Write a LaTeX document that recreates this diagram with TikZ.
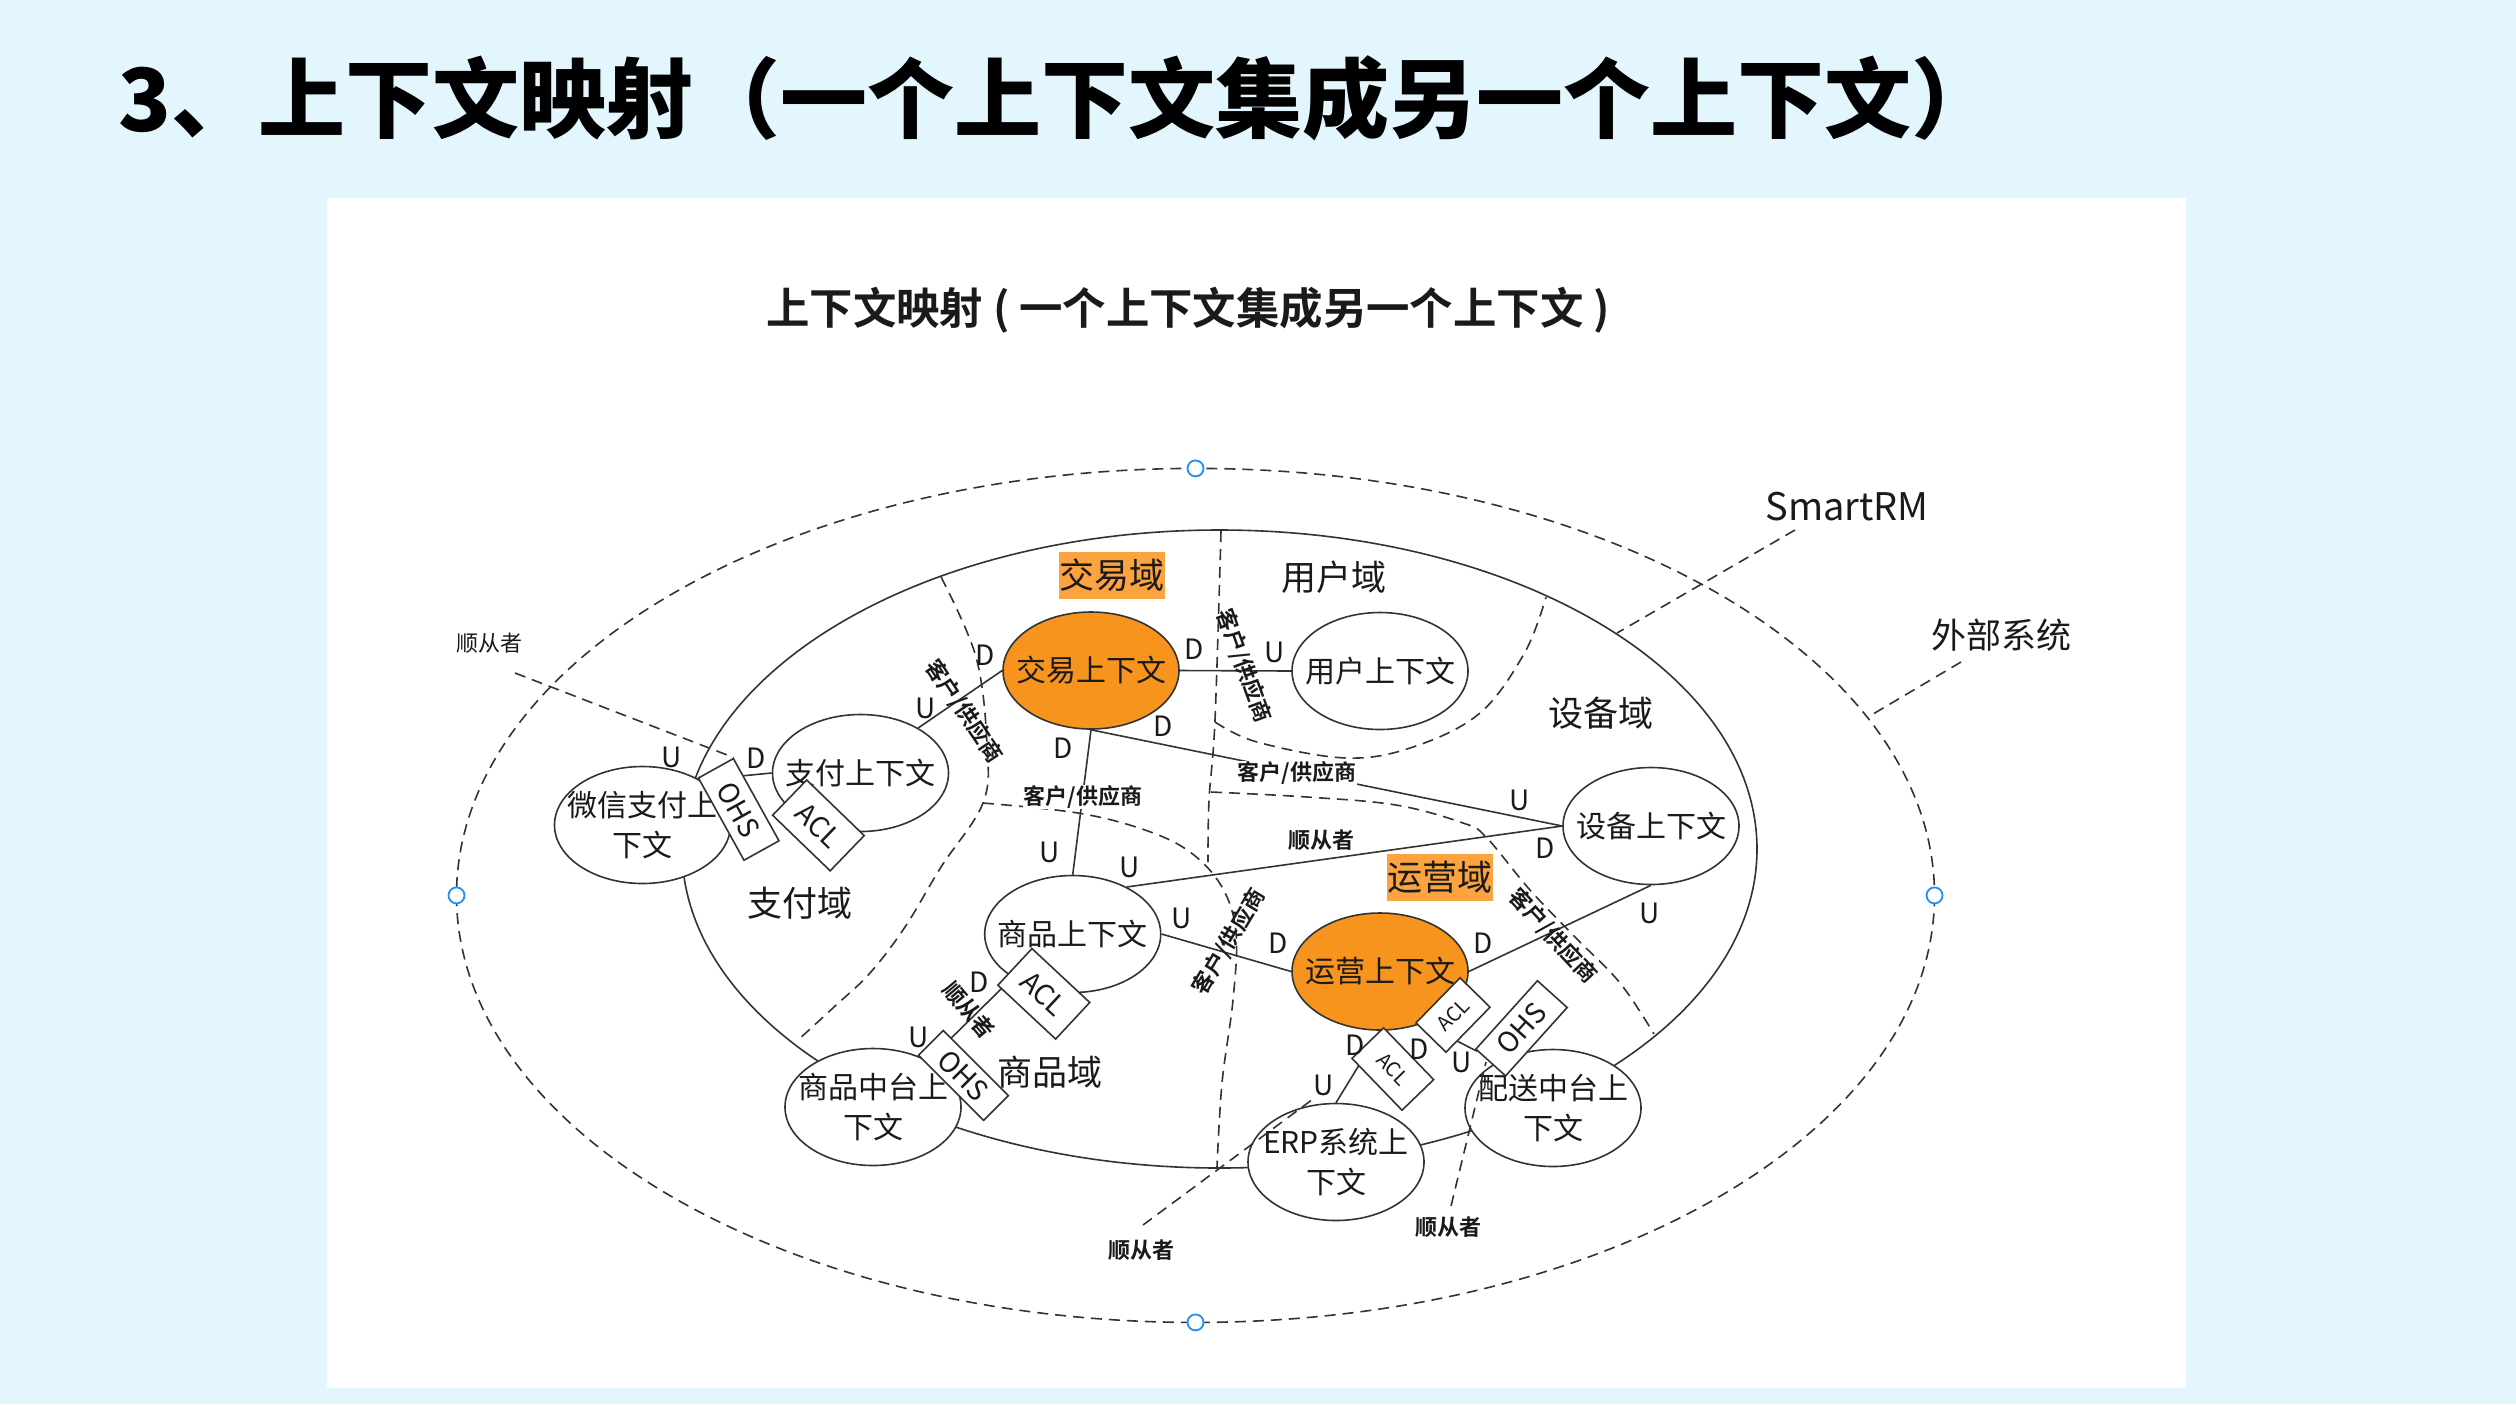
\documentclass[tikz,border=0pt]{standalone}
\usepackage{fontspec}
\setmainfont{Noto Sans CJK SC}[BoldFont={Noto Sans CJK SC Bold}]
\newfontfamily\headingfont{Noto Sans CJK SC Black}
\usetikzlibrary{calc,shapes.geometric}
\definecolor{bgblue}{RGB}{227,245,253}
\definecolor{nodeorange}{RGB}{247,148,30}
\definecolor{hlorange}{RGB}{250,163,64}
\definecolor{linegray}{RGB}{51,51,51}
\definecolor{textblack}{RGB}{26,26,26}
\definecolor{handleblue}{RGB}{30,144,255}

\begin{document}
\begin{tikzpicture}[x=0.5pt,y=-0.5pt,
  conn/.style={draw=linegray, line width=0.8pt},
  dline/.style={draw=linegray, line width=0.8pt, dash pattern=on 5.5pt off 3.5pt},
  ctx/.style={ellipse, draw=linegray, line width=0.8pt, fill=white, minimum width=88pt, minimum height=58.5pt, inner sep=0pt},
  ctxtext/.style={font=\fontsize{15}{20}\selectfont, text=textblack, align=center, inner sep=0pt},
  ud/.style={font=\fontsize{14}{14}\selectfont, text=textblack, inner sep=0pt},
  rel/.style={font=\bfseries\fontsize{11}{12}\selectfont, text=textblack, inner sep=0pt},
  dom/.style={font=\fontsize{17.5}{18}\selectfont, text=textblack, inner sep=0pt},
  domhl/.style={dom, fill=hlorange, minimum width=53pt, minimum height=23.5pt},
  relbox/.style={draw=linegray, line width=0.8pt, fill=white, inner sep=0pt, text=textblack, font=\fontsize{14}{14}\selectfont},
  relboxsm/.style={relbox, font=\fontsize{10}{10}\selectfont},
  handle/.style={draw=handleblue, line width=0.9pt, fill=white},
]
\useasboundingbox (0,0) rectangle (2516,1404);
\fill[bgblue] (0,0) rectangle (2516,1404);
\fill[white] (327,198) rectangle (2186,1388);

% headings
\node[anchor=west, font=\headingfont\fontsize{43.5}{44}\selectfont, text=black, inner sep=0pt] (title) at (118,98) {3、上下文映射（一个上下文集成另一个上下文）};
\node[font=\bfseries\fontsize{21.7}{22}\selectfont, text=textblack, inner sep=0pt] (subtitle) at (1188,310) {上下文映射 ( 一个上下文集成另一个上下文 )};

% external system boundary and SmartRM boundary
\draw[dline] (1195.5,895.4) ellipse [x radius=739, y radius=427];
\draw[conn] (1219.5,849) ellipse [x radius=537.5, y radius=319];
\foreach \hx/\hy in {1195.5/468.4, 1195.5/1322.4, 456.5/895.4, 1934.5/895.4}
  \draw[handle] (\hx,\hy) circle [radius=8];

% domain boundaries
\draw[dline] plot[smooth, tension=0.6] coordinates {(941,577) (976,657) (987,745) (983,803) (941,867) (905,927) (870,973) (834,1007) (798,1040)};
\draw[dline] plot[smooth, tension=0.6] coordinates {(983,803) (1078,813) (1145,830) (1190,852) (1222,887) (1236,933) (1233,1000) (1222,1083) (1217,1167)};
\draw[dline] plot[smooth, tension=0.6] coordinates {(1221,531) (1215,720) (1209,800) (1208,862)};
\draw[dline] plot[smooth, tension=0.6] coordinates {(1211,792) (1307,797) (1396,805) (1463,823) (1486,837) (1530,890) (1575,937) (1620,983) (1654,1034)};
\draw[dline] plot[smooth, tension=0.6] coordinates {(1215,722) (1257,742) (1346,758) (1413,747) (1480,713) (1525,652) (1546,597)};

% domain names
\node[domhl] (dJY) at (1112,575) {交易域};
\node[dom] (dYH) at (1334,577) {用户域};
\node[dom] (dSB) at (1601,713) {设备域};
\node[domhl] (dYY) at (1439.5,877) {运营域};
\node[dom] (dZF) at (800,903) {支付域};
\node[dom] (dSP) at (1050,1072) {商品域};

% bounded contexts
\node[ctx, fill=nodeorange] (jy) at (1091,670.5) {};
\node[ctx] (yh) at (1380,671) {};
\node[ctx] (zf) at (860.5,773) {};
\node[ctx] (wx) at (642.5,825) {};
\node[ctx] (sb) at (1651,826) {};
\node[ctx] (sp) at (1072.7,934) {};
\node[ctx, fill=nodeorange] (yy) at (1380,971.5) {};
\node[ctx] (spzt) at (873,1107) {};
\node[ctx] (erp) at (1336,1162) {};
\node[ctx] (ps) at (1553,1108) {};

\node[ctxtext] (jyt) at (jy) {交易上下文};
\node[ctxtext] (yht) at (yh) {用户上下文};
\node[ctxtext] (zft) at (zf) {支付上下文};
\node[ctxtext] (wxt) at (wx) {微信支付上\\下文};
\node[ctxtext] (sbt) at (sb) {设备上下文};
\node[ctxtext] (spt) at (sp) {商品上下文};
\node[ctxtext] (yyt) at (yy) {运营上下文};
\node[ctxtext] (spztt) at (spzt) {商品中台上\\下文};
\node[ctxtext] (erpt) at (erp) {ERP系统上\\下文};
\node[ctxtext] (pst) at (ps) {配送中台上\\下文};

% relationships
\draw[conn] (jy.east) -- (yh.west);
\draw[conn] (jy.west) -- (zf.38);
\draw[conn] (jy.south) -- (sb.west);
\draw[conn] (jy.south) -- (sp.north);
\draw[conn] (sp.41) -- (sb.west);
\draw[conn] (sp.east) -- (yy.west);
\draw[conn] (yy.east) -- (sb.south);
\draw[conn] (yy.south) -- (erp.north);
\draw[conn] (wx.38) -- (zf.west);
\draw[conn] (sp.216) -- (spzt.40);

% anticorruption layers and open host services
\node[relbox, minimum width=47pt, minimum height=20pt, rotate=-61] (ohs1) at (738.7,809.4) {OHS};
\node[relbox, minimum width=40pt, minimum height=24.5pt, rotate=-44] (acl1) at (818.4,825.4) {ACL};
\node[relbox, minimum width=39.5pt, minimum height=25pt, rotate=-43] (acl2) at (1043.8,993.8) {ACL};
\node[relbox, minimum width=46pt, minimum height=17.5pt, rotate=-45] (ohs2) at (963.4,1075.4) {OHS};
\node[relboxsm, minimum width=36pt, minimum height=22pt, rotate=-46] (acl4) at (1392.8,1069) {ACL};
\node[relboxsm, minimum width=31.5pt, minimum height=21pt, rotate=45.6] (acl3) at (1453,1015) {ACL};
\node[relbox, minimum width=46pt, minimum height=20pt, rotate=48] (ohs3) at (1521.5,1028.3) {OHS};
\draw[conn] ($(acl3.south)!0.48!(acl3.south west)$) -- ($(ohs3.north west)!0.15!(ohs3.west)$);

% relationship names
\node[rel, rotate=-56] (r1) at (964,711) {客户/供应商};
\node[rel, rotate=-70] (r2) at (1244,666) {客户/供应商};
\node[rel, fill=white, inner sep=0.5pt] (r3) at (1297,773) {客户/供应商};
\node[rel, fill=white, inner sep=0.5pt] (r4) at (1083,797) {客户/供应商};
\node[rel] (r5) at (1321,840) {顺从者};
\node[rel, rotate=59] (r6) at (1229,942) {客户/供应商};
\node[rel, rotate=-47] (r7) at (1553,936) {客户/供应商};
\node[rel, rotate=-50] (r8) at (969,1010) {顺从者};

% upstream / downstream marks
\node[ud] (u1) at (671.5,757) {U};
\node[ud] (d1) at (755.7,758) {D};
\node[ud] (d2) at (985.3,655) {D};
\node[ud] (u2) at (925.3,708) {U};
\node[ud] (d3) at (1194.6,649) {D};
\node[ud] (u3) at (1275,652) {U};
\node[ud] (d4) at (1163.4,726) {D};
\node[ud] (d5) at (1063,748) {D};
\node[ud] (u4) at (1049.6,852) {U};
\node[ud] (u5) at (1130,867) {U};
\node[ud] (u6) at (1519.6,800) {U};
\node[ud] (d6) at (1545,848) {D};
\node[ud] (u7) at (1182,918) {U};
\node[ud] (d7) at (1278,943) {D};
\node[ud] (d8) at (1483.5,943) {D};
\node[ud] (u8) at (1649.6,913) {U};
\node[ud] (d9) at (979,982) {D};
\node[ud] (u9) at (918.8,1037) {U};
\node[ud] (d10) at (1355,1045) {D};
\node[ud] (u10) at (1324,1085) {U};
\node[ud] (d11) at (1419,1049) {D};
\node[ud] (u11) at (1462,1062) {U};

% outer labels and their leaders
\node[dom, font=\fontsize{19}{19}\selectfont] (smartrm) at (1847,507) {SmartRM};
\node[dom] (waibu) at (2001,635) {外部系统};
\coordinate (smA) at (1795,530);
\coordinate (smB) at (1617,633);
\draw[dline] (smA) -- (smB);
\coordinate (wbA) at (1961,662);
\coordinate (wbB) at (1868,717);
\draw[dline] (wbA) -- (wbB);

\node[font=\fontsize{11}{11}\selectfont, text=textblack, inner sep=0pt] (sc1) at (489,643) {顺从者};
\coordinate (sc1a) at (515,673);
\draw[dline] (sc1a) -- (ohs1.north west);

\node[rel] (sc2) at (1141,1250) {顺从者};
\coordinate (sc2a) at (1143,1225);
\coordinate (sc2b) at (1313,1099);
\draw[dline] (sc2a) -- (sc2b);

\node[rel] (sc3) at (1448,1227) {顺从者};
\coordinate (sc3a) at (1451,1206);
\coordinate (sc3b) at (1486,1062);
\draw[dline] (sc3a) -- (sc3b);
\end{tikzpicture}
\end{document}
